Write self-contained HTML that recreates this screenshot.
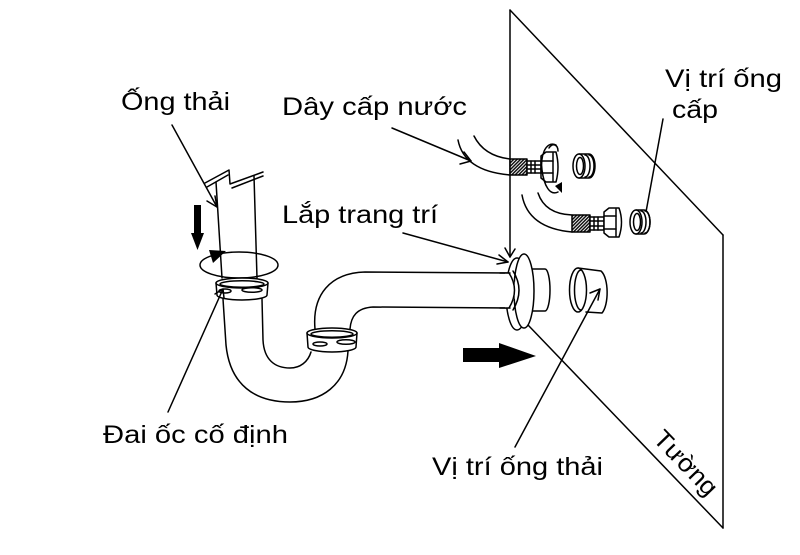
<!DOCTYPE html>
<html>
<head>
<meta charset="utf-8">
<style>
  html,body{margin:0;padding:0;background:#fff;}
  svg{display:block;}
  text{font-family:"Liberation Sans","DejaVu Sans",sans-serif;font-size:25px;fill:#000;}
</style>
</head>
<body>
<svg width="800" height="555" viewBox="0 0 800 555" xmlns="http://www.w3.org/2000/svg">
  <defs>
    <pattern id="h" width="2.4" height="2.4" patternUnits="userSpaceOnUse" patternTransform="rotate(45)">
      <rect width="2.4" height="2.4" fill="#fff"/>
      <rect width="1.5" height="2.4" fill="#111"/>
    </pattern>
  </defs>
  <rect width="800" height="555" fill="#fff"/>

  <g fill="none" stroke="#000" stroke-width="1.5" stroke-linejoin="round" stroke-linecap="round">
    <!-- Wall -->
    <line x1="510" y1="10" x2="510" y2="257"/>
    <line x1="510" y1="10" x2="723" y2="235"/>
    <line x1="723" y1="235" x2="723" y2="528"/>
    <line x1="528" y1="325" x2="723" y2="528"/>
    <polyline points="505,248 510,257 515,249"/>

    <!-- Vertical drain pipe -->
    <line x1="216" y1="182" x2="222" y2="278"/>
    <line x1="254" y1="176" x2="257" y2="278"/>
    <polyline points="205,183 229,170 230,184 263,172"/>
    <polyline points="207,187 228,175"/>
    <polyline points="232,188 263,176"/>

    <!-- rotation ring -->
    <ellipse cx="239" cy="265" rx="39" ry="13"/>

    <!-- Upper slip nut -->
    <path d="M216,283 L217,295 A25,5 0 0 0 267,295 L268,283" fill="#fff"/>
    <ellipse cx="242" cy="283" rx="26" ry="5" fill="#fff"/>
    <ellipse cx="242" cy="284" rx="22" ry="3.2"/>
    <ellipse cx="225" cy="291" rx="6" ry="2"/>
    <ellipse cx="252" cy="290" rx="10" ry="2.3"/>

    <!-- J bend -->
    <path d="M223,299 L226,345 C230,385 255,402 290,402 C322,402 346,385 348,351"/>
    <path d="M262,299 L263,340 C264,360 275,368 290,368 C300,368 308,362 311,352"/>

    <!-- Lower slip nut -->
    <path d="M307,333 L308,347 A24,5 0 0 0 356,347 L357,333" fill="#fff"/>
    <ellipse cx="332" cy="333" rx="25" ry="5" fill="#fff"/>
    <ellipse cx="332" cy="334" rx="21" ry="3.2"/>
    <ellipse cx="320" cy="344" rx="7" ry="2"/>
    <ellipse cx="346" cy="342" rx="9" ry="2.3"/>

    <!-- Upper bend + arm -->
    <path d="M315,329 C312,295 330,273 365,272 L510,273"/>
    <path d="M350,329 C351,316 357,308 373,307 L510,308"/>

    <!-- small cylinder right of flange -->
    <path d="M528,269 L545,269 A5,21 0 0 1 545,311 L528,311" fill="#fff"/>
    <!-- flange back rim -->
    <ellipse cx="517" cy="294" rx="11" ry="36" fill="#fff"/>
    <!-- flange front face -->
    <ellipse cx="524" cy="291" rx="10" ry="37" fill="#fff"/>
    <!-- arm end / ring -->
    <path d="M505,273 L510,273 Q521,290 510,308 L505,308" fill="#fff" stroke="none"/>
    <line x1="500" y1="273" x2="510" y2="273"/>
    <line x1="500" y1="308" x2="510" y2="308"/>
    <path d="M509,273 Q520,290 509,308"/>
    <path d="M513,271 Q525,290 513,310"/>

    <!-- Wall cylinder (waste position) -->
    <path d="M578,268 L601,271 C609,278 609,305 602,313 L586,312" fill="#fff"/>
    <ellipse cx="578" cy="290" rx="8.5" ry="22" fill="#fff"/>
    <path d="M581,270 A6.5,20 0 0 0 581,310"/>

    <!-- Leaders -->
    <line x1="172" y1="125" x2="217" y2="207"/>
    <polyline points="207,201 217,207 215,196"/>
    <line x1="392" y1="128" x2="471" y2="161"/>
    <polyline points="464,152 471,161 460,164"/>
    <line x1="403" y1="233" x2="508" y2="262"/>
    <polyline points="499,255 508,262 497,264"/>
    <line x1="168" y1="412" x2="223" y2="289"/>
    <polyline points="215,294 223,289 224,298"/>
    <path d="M515,447 Q552,378 600,289"/>
    <polyline points="590,293 600,289 598,300"/>
    <line x1="663" y1="119" x2="646" y2="212"/>

    <!-- Top hose -->
    <path d="M474,136 Q484,156 510,159"/>
    <path d="M458,140 Q464,171 510,175"/>
    <rect x="510" y="159" width="17" height="16" fill="url(#h)"/>
    <rect x="527" y="161" width="14" height="12" fill="#fff"/>
    <line x1="531" y1="161" x2="531" y2="173"/>
    <line x1="535" y1="161" x2="535" y2="173"/>
    <line x1="527" y1="165" x2="541" y2="165"/>
    <line x1="527" y1="169" x2="541" y2="169"/>
    <path d="M541,156 L546,152 L556,152 Q560,167 556,182 L546,182 L541,178 Z" fill="#fff"/>
    <line x1="553" y1="153" x2="553" y2="181"/>
    <line x1="541" y1="161" x2="553" y2="161"/>
    <line x1="541" y1="173" x2="553" y2="173"/>
    <path d="M556,145 C545,140 540,158 542,170 C544,186 550,196 558,192"/>
    <path d="M549,148 C553,142 558,145 558,151"/>
    <path d="M579,154 L589,154 A6,12 0 0 1 589,178 L579,178" fill="#fff"/>
    <ellipse cx="579" cy="166" rx="6" ry="12" fill="#fff"/>
    <ellipse cx="580" cy="166" rx="3.5" ry="8.5"/>
    <path d="M585,155 A5,11 0 0 1 585,177"/>
    <path d="M589,155 A5,11 0 0 1 589,177"/>

    <!-- Lower hose -->
    <path d="M522,195 Q528,228 572,232"/>
    <path d="M538,193 Q545,214 572,215"/>
    <rect x="572" y="215" width="18" height="17" fill="url(#h)"/>
    <rect x="590" y="217" width="14" height="13" fill="#fff"/>
    <line x1="594" y1="217" x2="594" y2="230"/>
    <line x1="598" y1="217" x2="598" y2="230"/>
    <line x1="590" y1="221" x2="604" y2="221"/>
    <line x1="590" y1="226" x2="604" y2="226"/>
    <path d="M604,212 L609,208 L619,208 Q624,222 619,237 L609,237 L604,233 Z" fill="#fff"/>
    <line x1="616" y1="209" x2="616" y2="236"/>
    <line x1="604" y1="216" x2="616" y2="216"/>
    <line x1="604" y1="229" x2="616" y2="229"/>
    <path d="M636,210 L644,210 A6,12 0 0 1 644,234 L636,234" fill="#fff"/>
    <ellipse cx="636" cy="222" rx="6" ry="12" fill="#fff"/>
    <ellipse cx="637" cy="222" rx="3.5" ry="8.5"/>
    <path d="M641,211 A5,11 0 0 1 641,233"/>
    <path d="M645,211 A5,11 0 0 1 645,233"/>
  </g>

  <!-- Filled arrows -->
  <g fill="#000" stroke="none">
    <polygon points="194,205 201,205 201,233 204,233 197.5,250 191,233 194,233"/>
    <polygon points="209,250 226,251 213,263"/>
    <polygon points="555,186 562,182 562,193"/>
    <polygon points="463,348 499,348 499,343 536,356 499,368 499,362 463,362"/>
  </g>

  <!-- Labels -->
  <text x="121" y="110" textLength="109" lengthAdjust="spacingAndGlyphs">Ống thải</text>
  <text x="282" y="115" textLength="185" lengthAdjust="spacingAndGlyphs">Dây cấp nước</text>
  <text x="282" y="223" textLength="156" lengthAdjust="spacingAndGlyphs">Lắp trang trí</text>
  <text x="665" y="87" textLength="117" lengthAdjust="spacingAndGlyphs">Vị trí ống</text>
  <text x="672" y="118" textLength="46" lengthAdjust="spacingAndGlyphs">cấp</text>
  <text x="103" y="443" textLength="185" lengthAdjust="spacingAndGlyphs">Đai ốc cố định</text>
  <text x="432" y="475" textLength="171" lengthAdjust="spacingAndGlyphs">Vị trí ống thải</text>
  <text transform="translate(652,440) rotate(46)" textLength="80" lengthAdjust="spacingAndGlyphs">Tường</text>
</svg>
</body>
</html>
